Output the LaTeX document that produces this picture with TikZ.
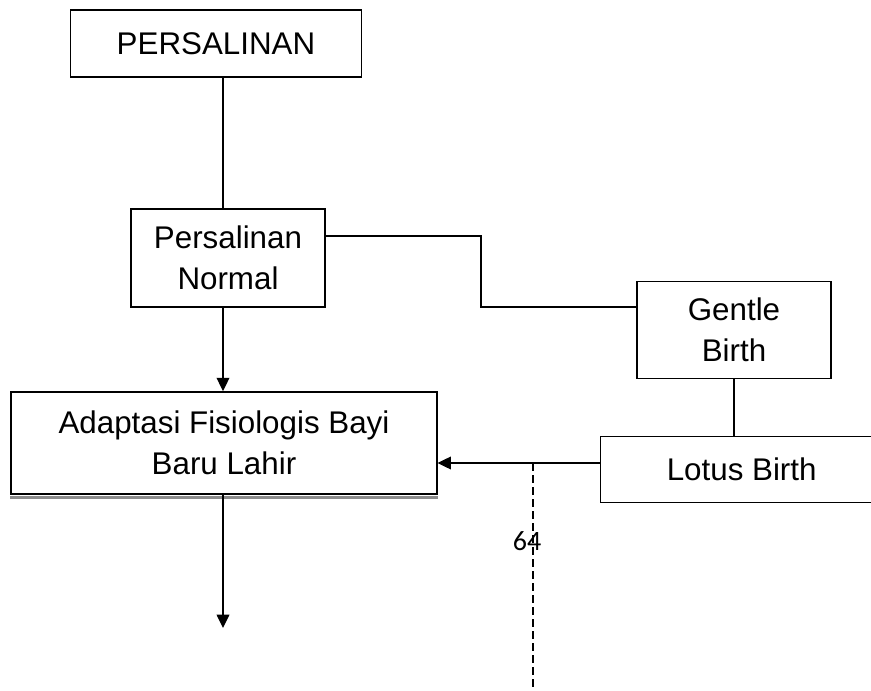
\documentclass[tikz,border=0pt]{standalone}
\usepackage{fontspec}
\setmainfont{Liberation Sans}
\newfontfamily\pagefont{Carlito}
\usepackage{tikz}
\usetikzlibrary{
    arrows.meta,
    calc
}

\begin{document}
\begin{tikzpicture}[x=0.75pt,y=-0.75pt,
    box/.style={draw,line width=1pt,fill=white,inner sep=0pt,align=center,
        font=\fontsize{23.5}{31}\selectfont},
    arr/.style={-{Triangle[length=10pt,width=9.5pt]}},
    every path/.style={line width=1.1pt}]
\useasboundingbox (0,0) rectangle (871,691);

% boxes
\node[box,minimum width=218.25pt,minimum height=50.25pt] (persalinan) at (216,43.5) {PERSALINAN};
\node[box,minimum width=145.7pt,minimum height=73.3pt] (normal) at (228,258) {Persalinan\\Normal};
\node[box,minimum width=145.7pt,minimum height=72.5pt] (gentle) at (734,330) {Gentle\\Birth};
\node[box,minimum width=319.3pt,minimum height=76.7pt] (adaptasi) at (224,443) {Adaptasi Fisiologis Bayi\\Baru Lahir};
\node[box,minimum width=211.5pt,minimum height=49.5pt] (lotus) at (741.7,469.7) {Lotus Birth};

% shadow under adaptasi
\fill[black!45] ([yshift=-0.7pt]adaptasi.south west) rectangle ([yshift=-2.8pt]adaptasi.south east);

\coordinate (trunk) at (223,0);
\coordinate (bend) at (481,236);
\coordinate (bend2) at (481,307);
\coordinate (tap) at (533,463);
\coordinate (floor) at (533,691);
\coordinate (exit) at (223,628);

% connectors
\draw (persalinan.south -| trunk) -- (normal.north -| trunk);
\draw[arr] (normal.south -| trunk) -- (adaptasi.north -| trunk);
\draw[arr] (adaptasi.south -| trunk) -- (exit);
\draw (normal.east |- bend) -- (bend) -- (bend2) -- (bend2 -| gentle.west);
\draw (gentle.south) -- (gentle.south |- lotus.north);
\draw[arr] (lotus.west |- tap) -- (adaptasi.east |- tap);

% page break line
\draw[dash pattern=on 6pt off 3pt] (tap) -- (floor);
\node[font=\pagefont\fontsize{21}{24}\selectfont] (page) at (527,541) {64};
\end{tikzpicture}
\end{document}
